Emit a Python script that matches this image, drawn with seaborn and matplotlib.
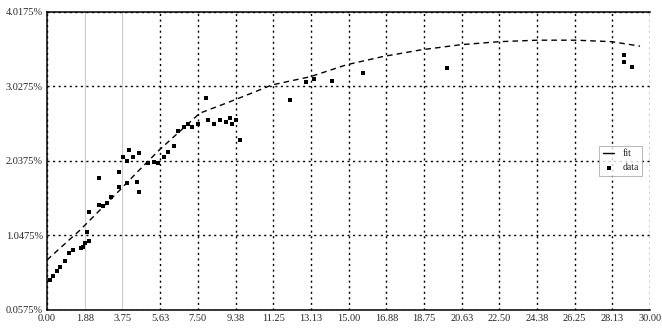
import numpy as np
import pandas as pd
import matplotlib
matplotlib.use("Agg")
import matplotlib.pyplot as plt
import seaborn as sns

# ---------------- data ----------------
x_ticks = [0.00, 1.88, 3.75, 5.63, 7.50, 9.38, 11.25, 13.13, 15.00,
           16.88, 18.75, 20.63, 22.50, 24.38, 26.25, 28.13, 30.00]
y_ticks = [0.0575, 1.0475, 2.0375, 3.0275, 4.0175]

# measured points
meas_x = [0.15, 0.3, 0.5, 0.65, 0.9, 1.1, 1.3, 1.7, 1.8, 1.9, 2.0, 2.1,
          2.1, 2.6, 2.6, 2.8, 3.0, 3.2, 3.6, 3.6, 3.8, 4.0, 4.0, 4.1,
          4.3, 4.5, 4.6, 4.6, 5.0, 5.3, 5.5, 5.8, 6.0, 6.3, 6.5, 6.8,
          7.0, 7.2, 7.5, 7.9, 8.0, 8.3, 8.6, 8.9, 9.1, 9.2, 9.4, 9.6,
          12.1, 12.9, 13.3, 14.2, 15.7, 19.9, 28.7, 28.7, 29.1]
meas_y = [0.40, 0.45, 0.52, 0.58, 0.66, 0.77, 0.80, 0.83, 0.85, 0.90, 1.05, 0.92,
          1.32, 1.41, 1.77, 1.40, 1.44, 1.52, 1.65, 1.85, 2.05, 1.70, 2.00, 2.15,
          2.05, 1.72, 2.10, 1.58, 1.97, 1.99, 1.97, 2.05, 2.12, 2.20, 2.40, 2.45,
          2.50, 2.45, 2.50, 2.85, 2.55, 2.50, 2.55, 2.52, 2.58, 2.50, 2.55, 2.28,
          2.82, 3.06, 3.10, 3.07, 3.18, 3.25, 3.42, 3.33, 3.26]

# fitted curve
fit_x = [0.0, 1.64, 3.63, 4.6, 5.6, 7.6, 9.35, 11.2, 13.1, 14.9, 16.7,
         18.6, 20.6, 22.5, 24.4, 26.3, 28.1, 29.5]
fit_y = [0.67, 1.07, 1.61, 1.88, 2.15, 2.64, 2.82, 3.02, 3.13, 3.29, 3.40,
         3.49, 3.56, 3.60, 3.62, 3.62, 3.60, 3.54]

y0, ystep = 0.0575, 0.99
meas = pd.DataFrame({"x": meas_x, "y": [y0 + ystep * v for v in meas_y]})
fit = pd.DataFrame({"x": fit_x, "y": [y0 + ystep * v for v in fit_y]})

# ---------------- plot ----------------
sns.set_style("white")
plt.rcParams["font.family"] = ["Liberation Serif", "DejaVu Serif"]

fig = plt.figure(figsize=(6.62, 3.30), dpi=100)
ax = fig.add_axes([0.071, 0.061, 0.911, 0.903])

sns.lineplot(data=fit, x="x", y="y", ax=ax, color="black", linewidth=1.0,
             linestyle=(0, (4, 3)), label="fit", sort=False)
sns.scatterplot(data=meas, x="x", y="y", ax=ax, color="black", marker="s",
                s=6, linewidth=0, label="data")

ax.set_xlim(x_ticks[0], x_ticks[-1])
ax.set_ylim(y_ticks[0], y_ticks[-1])
ax.set_xticks(x_ticks)
ax.set_xticklabels([f"{v:.2f}" for v in x_ticks])
ax.set_yticks(y_ticks)
ax.set_yticklabels([f"{v:.4f}%" for v in y_ticks])
ax.tick_params(axis="both", length=0, labelsize=7.5, pad=3)
ax.set_xlabel("")
ax.set_ylabel("")

ax.grid(True, color="black", linestyle=(0, (1.5, 2.5)), linewidth=1.0)
for gl in ax.get_xgridlines()[1:3]:
    gl.set_color("#cccccc")
    gl.set_linestyle("-")
    gl.set_linewidth(0.8)

for side in ["left", "bottom", "top"]:
    ax.spines[side].set_color("black")
    ax.spines[side].set_linewidth(1.1)
ax.spines["right"].set_visible(False)

leg = ax.legend(loc="center left", bbox_to_anchor=(0.915, 0.5), frameon=True,
                fontsize=7, handlelength=1.2, borderaxespad=0, fancybox=False)
leg.get_frame().set_edgecolor("#999999")
leg.get_frame().set_linewidth(0.6)
leg.get_lines()[0].set_linestyle("-")

plt.savefig("out.png", dpi=100)
plt.close()
